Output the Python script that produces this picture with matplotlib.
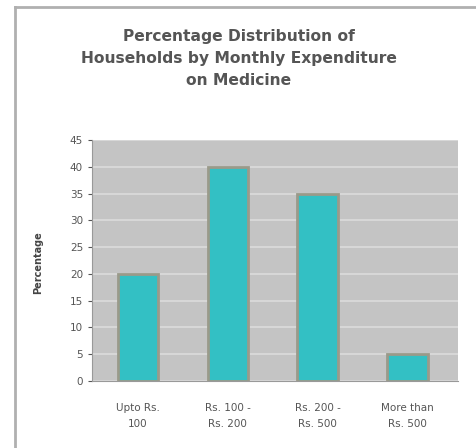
import matplotlib.pyplot as plt
from matplotlib.lines import Line2D

categories = ["Upto Rs.\n100", "Rs. 100 -\nRs. 200", "Rs. 200 -\nRs. 500", "More than\nRs. 500"]
percentages = [20, 40, 35, 5]
y_ticks = [0, 5, 10, 15, 20, 25, 30, 35, 40, 45]

fig = plt.figure(figsize=(4.77, 4.48), dpi=100)
fig.patch.set_facecolor('white')
# frame lines at top and left of the chart
fig.lines.append(Line2D([0.032, 0.032], [0.0, 0.985], transform=fig.transFigure,
                        color='#b0b0b0', linewidth=2))
fig.lines.append(Line2D([0.032, 1.0], [0.985, 0.985], transform=fig.transFigure,
                        color='#b0b0b0', linewidth=2))

ax = fig.add_axes([0.193, 0.150, 0.767, 0.5375])
ax.set_facecolor('#c4c4c4')
ax.bar(range(len(categories)), percentages, width=0.45, color='#33c0c4',
       edgecolor='#9a9a8a', linewidth=2, zorder=3)

ax.set_ylim(0, 45)
ax.set_yticks(y_ticks)
ax.set_xlim(-0.51, 3.56)
ax.set_xticks(range(len(categories)))
ax.set_xticklabels(categories, fontsize=7.5, color='#555555', linespacing=1.7)
ax.tick_params(axis='y', labelsize=7.5, colors='#555555', length=3)
ax.tick_params(axis='x', length=0, pad=16)
ax.yaxis.grid(True, color='#dcdcdc', linewidth=1.2, zorder=0)
ax.set_axisbelow(True)
for s in ['top', 'right']:
    ax.spines[s].set_visible(False)
ax.spines['left'].set_color('#999999')
ax.spines['bottom'].set_color('#999999')

ax.set_ylabel('Percentage', fontsize=7, fontweight='bold', color='#444444')
ax.yaxis.set_label_coords(-0.134, 0.49)

fig.text(0.5, 0.87, 'Percentage Distribution of\nHouseholds by Monthly Expenditure\non Medicine',
         ha='center', va='center', fontsize=11.2, fontweight='bold', color='#555555',
         linespacing=1.6)

fig.savefig('out.png', dpi=100)
